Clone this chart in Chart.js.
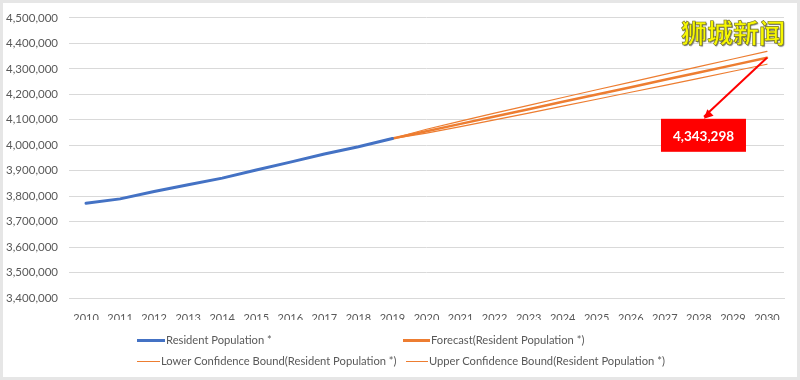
<!DOCTYPE html>
<html>
<head>
<meta charset="utf-8">
<script src="https://cdn.jsdelivr.net/npm/chart.js@4/dist/chart.umd.min.js"></script>
<style>
  html, body { margin: 0; padding: 0; background: #fff; }
  #wrap { position: relative; width: 800px; height: 380px; overflow: hidden; }
  #frame { position: absolute; left: 0; top: 0; width: 794px; height: 374px; border: 3px solid #e6e6e6; pointer-events: none; }
  canvas { position: absolute; left: 0; top: 0; }
  .legend-item { position: absolute; font: 11.2px Lato, sans-serif; color: #595959; white-space: nowrap; line-height: 14px; }
  .legend-item .swatch { position: absolute; top: 7px; left: 0; }
  .legend-item span.txt { position: absolute; top: 0; }
  #brand { position: absolute; left: 681px; top: 13px; font: bold 26px "Noto Sans CJK SC", sans-serif;
    color: #f7f700; -webkit-text-stroke: 0.6px #6b6b2a; text-shadow: 1px 1px 1px #777; }
</style>
</head>
<body>
<div id="wrap">
  <canvas id="chart" width="800" height="380"></canvas>
  <div id="legend"></div>
  <div id="brand">狮城新闻</div>
  <div id="frame"></div>
</div>
<script>
const years = ['2010', '2011', '2012', '2013', '2014', '2015', '2016', '2017', '2018', '2019',
  '2020', '2021', '2022', '2023', '2024', '2025', '2026', '2027', '2028', '2029', '2030'];

// 2010 - 2019
const residentPop = [3771721, 3789251, 3818205, 3844751, 3870739, 3902690, 3933559, 3965796, 3994283, 4026209];

// 2019 - 2030
const forecast = [4026209, 4055035, 4083861, 4112687, 4141513, 4170339, 4199165, 4227991, 4256817, 4285643, 4314470, 4343298];
const lowerBound = [4026209, 4047400, 4073200, 4099500, 4126300, 4153300, 4180600, 4207900, 4235300, 4262800, 4290400, 4318100];
const upperBound = [4026209, 4062600, 4094600, 4125900, 4156700, 4187300, 4217800, 4248100, 4278300, 4308400, 4338500, 4368500];

const yTicks = { min: 3400000, max: 4500000, step: 100000 };
const calloutText = '4,343,298';

const BLUE = '#4472C4';
const ORANGE = '#ED7D31';
const GRID = '#d9d9d9';
const TEXT = '#595959';

const forecastStart = years.indexOf('2019');
const pad = (arr, start) => years.map((_, i) => (i >= start && i - start < arr.length ? arr[i - start] : null));

const legendItems = [
  { label: 'Resident Population *', color: BLUE, width: 3, x: 137, y: 333, len: 28 },
  { label: 'Forecast(Resident Population *)', color: ORANGE, width: 3, x: 403, y: 333, len: 27 },
  { label: 'Lower Confidence Bound(Resident Population *)', color: ORANGE, width: 1, x: 137, y: 354, len: 23 },
  { label: 'Upper Confidence Bound(Resident Population *)', color: ORANGE, width: 1, x: 406, y: 354, len: 22 }
];

const legendEl = document.getElementById('legend');
legendItems.forEach(item => {
  const div = document.createElement('div');
  div.className = 'legend-item';
  div.style.left = item.x + 'px';
  div.style.top = item.y + 'px';
  const sw = document.createElement('div');
  sw.className = 'swatch';
  sw.style.width = item.len + 'px';
  sw.style.height = item.width + 'px';
  sw.style.marginTop = -Math.floor(item.width / 2) + 'px';
  sw.style.background = item.color;
  const txt = document.createElement('span');
  txt.className = 'txt';
  txt.style.left = (item.len + 1) + 'px';
  txt.textContent = item.label;
  div.appendChild(sw);
  div.appendChild(txt);
  legendEl.appendChild(div);
});

// red callout box + arrow pointing at the last forecast point
const callout = {
  id: 'callout',
  afterDatasetsDraw(chart) {
    const { ctx, scales: { x, y } } = chart;
    const px = x.getPixelForValue(years.length - 1);
    const py = y.getPixelForValue(forecast[forecast.length - 1]);
    const boxL = px - 106, boxT = py + 61, boxW = 85, boxH = 33;
    const ex = px - 63, ey = boxT;

    ctx.save();
    ctx.fillStyle = '#FF0000';
    ctx.fillRect(boxL, boxT, boxW, boxH);

    ctx.strokeStyle = '#FF0000';
    ctx.lineWidth = 2;
    ctx.beginPath();
    ctx.moveTo(px, py);
    ctx.lineTo(ex, ey - 2);
    ctx.stroke();

    const ang = Math.atan2(ey - py, ex - px);
    const hl = 9, hw = 4.5;
    ctx.beginPath();
    ctx.moveTo(ex, ey);
    ctx.lineTo(ex - hl * Math.cos(ang) + hw * Math.sin(ang), ey - hl * Math.sin(ang) - hw * Math.cos(ang));
    ctx.lineTo(ex - hl * Math.cos(ang) - hw * Math.sin(ang), ey - hl * Math.sin(ang) + hw * Math.cos(ang));
    ctx.closePath();
    ctx.fill();

    ctx.fillStyle = '#fff';
    ctx.font = 'bold 13.5px Lato, sans-serif';
    ctx.textAlign = 'center';
    ctx.textBaseline = 'middle';
    ctx.fillText(calloutText, boxL + boxW / 2, boxT + boxH / 2 + 1);
    ctx.restore();
  }
};

new Chart(document.getElementById('chart'), {
  type: 'line',
  data: {
    labels: years,
    datasets: [
      { label: 'Resident Population *', data: pad(residentPop, 0), borderColor: BLUE, borderWidth: 3 },
      { label: 'Lower Confidence Bound(Resident Population *)', data: pad(lowerBound, forecastStart), borderColor: ORANGE, borderWidth: 1.2 },
      { label: 'Upper Confidence Bound(Resident Population *)', data: pad(upperBound, forecastStart), borderColor: ORANGE, borderWidth: 1.2 },
      { label: 'Forecast(Resident Population *)', data: pad(forecast, forecastStart), borderColor: ORANGE, borderWidth: 2.5 }
    ]
  },
  options: {
    responsive: false,
    animation: false,
    elements: { point: { radius: 0 }, line: { tension: 0, borderCapStyle: 'round' } },
    layout: { padding: { top: 15, left: 0, right: 16, bottom: 60 } },
    plugins: { legend: { display: false }, tooltip: { enabled: false } },
    scales: {
      x: {
        offset: true,
        grid: { display: false },
        border: { display: true, color: GRID },
        ticks: { color: TEXT, font: { family: 'Lato', size: 11 }, padding: 6, maxRotation: 0, autoSkip: false },
        afterFit: s => { s.height = 22; }
      },
      y: {
        min: yTicks.min,
        max: yTicks.max,
        grid: { color: GRID, drawTicks: false },
        border: { display: false },
        ticks: {
          stepSize: yTicks.step,
          color: TEXT,
          font: { family: 'Lato', size: 11.5 },
          padding: 11,
          callback: v => v.toLocaleString('en-US')
        },
        afterFit: s => { s.width = 69; }
      }
    }
  },
  plugins: [callout]
});
</script>
</body>
</html>
